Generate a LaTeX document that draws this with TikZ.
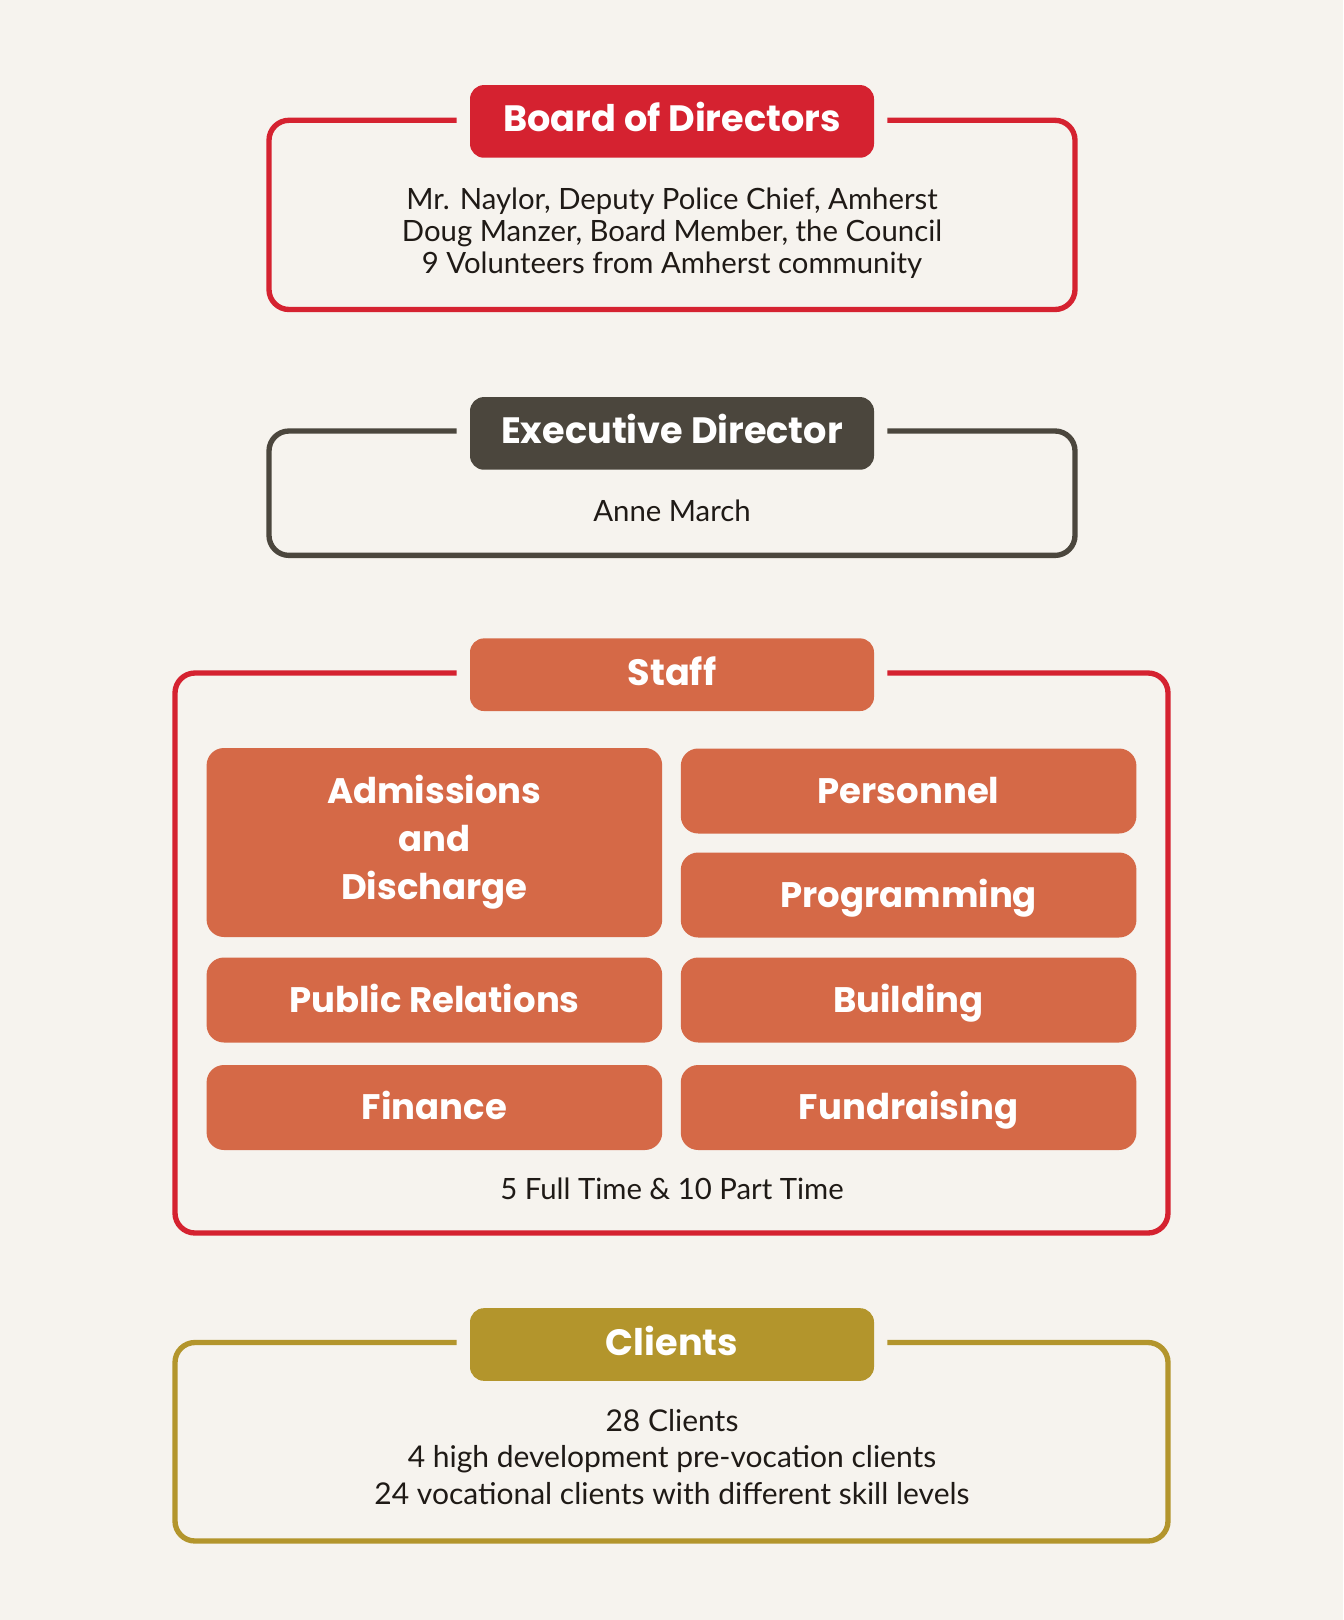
\documentclass[tikz,border=0pt]{standalone}
\usepackage{fontspec}
\setmainfont{Lato}
\newfontfamily\hfont{Poppins}
\definecolor{bg}{HTML}{F6F3EE}
\definecolor{cred}{HTML}{D52230}
\definecolor{cgray}{HTML}{4B463D}
\definecolor{corange}{HTML}{D56947}
\definecolor{cgold}{HTML}{B3952C}
\definecolor{ctext}{HTML}{1F1A16}
\begin{document}
\begin{tikzpicture}[x=0.75pt,y=-0.75pt,
  frame/.style={line width=4pt, rounded corners=15pt},
  head/.style={rectangle, rounded corners=10.5pt, minimum width=303pt, minimum height=54.5pt, inner sep=0pt, text height=15.8pt, text depth=0pt, text=white, font=\hfont\bfseries\fontsize{27.5}{30}\selectfont},
  unit/.style={rectangle, rounded corners=13pt, fill=corange, text=white, minimum width=341.7pt, inner sep=0pt, align=center, font=\hfont\bfseries\fontsize{26.6}{36}\selectfont},
  one/.style={minimum height=63.75pt, text height=18.6pt, text depth=0pt},
  body/.style={text=ctext, align=center, inner sep=0pt, font=\fontsize{22}{24}\selectfont}
]
\fill[bg] (0,0) rectangle (1343,1620);
\useasboundingbox (0,0) rectangle (1343,1620);

% Board of Directors
\draw[frame, cred] (456.6,120.3) -- (269,120.3) -- (269,309.5) -- (1075,309.5) -- (1075,120.3) -- (887.4,120.3);
\node[head, fill=cred] (board) at (672,121.4) {Board of Directors};
\node[body] (boardtxt) at (672,233) {Mr. Naylor, Deputy Police Chief, Amherst\\Doug Manzer, Board Member, the Council\\9 Volunteers from Amherst community};

% Executive Director
\draw[frame, cgray] (456.6,431) -- (269,431) -- (269,555.4) -- (1075,555.4) -- (1075,431) -- (887.4,431);
\node[head, fill=cgray] (exec) at (672,433.4) {Executive Director};
\node[body] (exectxt) at (672,511) {Anne March};

% Staff
\draw[frame, cred] (456.6,673) -- (175,673) -- (175,1233) -- (1168,1233) -- (1168,673) -- (887.4,673);
\node[head, fill=corange] (staff) at (672,674.7) {Staff};
\node[unit, minimum height=141.75pt] (adm) at (434.4,842.5) {Admissions\\and\\Discharge};
\node[unit, one] (pers) at (908.6,791) {Personnel};
\node[unit, one] (prog) at (908.6,895) {Programming};
\node[unit, one] (pr) at (434.4,1000) {Public Relations};
\node[unit, one] (build) at (908.6,1000) {Building};
\node[unit, one] (fin) at (434.4,1107.5) {Finance};
\node[unit, one] (fund) at (908.6,1107.5) {Fundraising};
\node[body] (stafftxt) at (672,1189) {5 Full Time \& 10 Part Time};

% Clients
\draw[frame, cgold] (456.6,1342.5) -- (175,1342.5) -- (175,1541) -- (1168,1541) -- (1168,1342.5) -- (887.4,1342.5);
\node[head, fill=cgold] (clients) at (672,1344.5) {Clients};
\node[body, font=\fontsize{22.5}{27.4}\selectfont] (clienttxt) at (672,1456.6) {28 Clients\\4 high development pre-vocation clients\\24 vocational clients with different skill levels};
\end{tikzpicture}
\end{document}
